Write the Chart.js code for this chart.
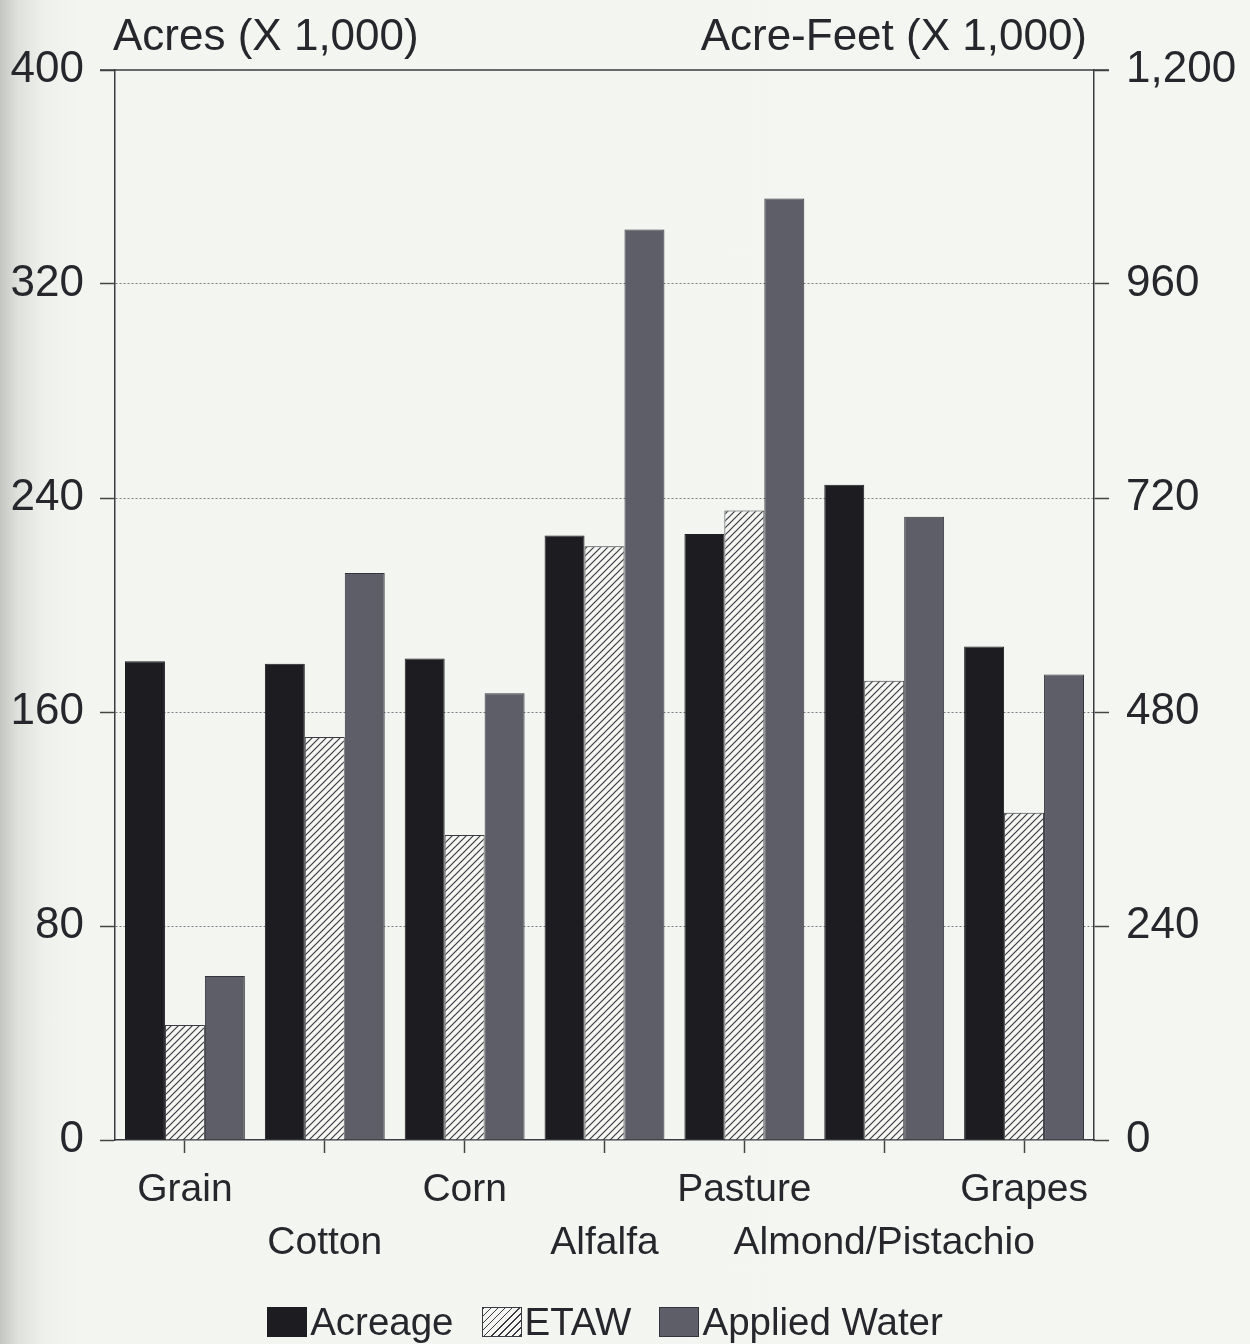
<!DOCTYPE html>
<html>
<head>
<meta charset="utf-8">
<script src="https://cdn.jsdelivr.net/npm/chart.js@4/dist/chart.umd.min.js"></script>
<style>
  html, body { margin: 0; padding: 0; }
  body {
    width: 1250px; height: 1344px; overflow: hidden;
    background: linear-gradient(to right, #c4c6c2 0px, #dfe1dc 18px, #eff1ec 45px, #f3f5f0 80px, #f4f6f1 100%);
    font-family: "Liberation Sans", Arial, Helvetica, sans-serif;
  }
  #wrap { position: relative; width: 1250px; height: 1344px; }
  #legend {
    position: absolute; left: -20px; top: 1303px; width: 1250px; height: 38px;
    display: flex; justify-content: center; align-items: center;
    font-size: 38.5px; color: #26262c;
  }
  #legend .item { display: flex; align-items: center; margin: 0 14px; }
  #legend .box { width: 40px; height: 30px; margin-right: 3px; box-sizing: border-box; }
</style>
</head>
<body>
<div id="wrap">
  <canvas id="myChart" width="1250" height="1344"></canvas>
  <div id="legend"></div>
</div>
<script>
// crops, staggered on two rows like the original
var categories = ['Grain', 'Cotton', 'Corn', 'Alfalfa', 'Pasture', 'Almond/Pistachio', 'Grapes'];

// acres (x 1,000) - left axis
var acreage = [179, 178, 180, 226, 226.5, 245, 184.5];
// acre-feet (x 1,000) - right axis
var etaw = [129, 452, 342, 666, 706, 515, 367];
var appliedWater = [184, 636, 501, 1021, 1056, 699, 522];

var leftTicks = [0, 80, 160, 240, 320, 400];
var rightTicks = [0, 240, 480, 720, 960, 1200];

var FONT = '"Liberation Sans", Arial, Helvetica, sans-serif';
var INK = '#26262c';

// two-row labels: even index on top row, odd on second row
var xLabels = categories.map(function (c, i) {
    return i % 2 === 0 ? [c, ''] : ['', c];
});

// diagonal hatch for ETAW
function makeHatch() {
    var p = document.createElement('canvas');
    p.width = 7; p.height = 7;
    var c = p.getContext('2d');
    c.fillStyle = '#f6f7f3';
    c.fillRect(0, 0, 7, 7);
    c.strokeStyle = '#3a3a42';
    c.lineWidth = 1.2;
    c.beginPath();
    c.moveTo(-1, 8); c.lineTo(8, -1);
    c.moveTo(-2, 2); c.lineTo(2, -2);
    c.moveTo(5, 9); c.lineTo(9, 5);
    c.stroke();
    return document.getElementById('myChart').getContext('2d').createPattern(p, 'repeat');
}
var hatch = makeHatch();

// axis headings and the solid top frame line
var frame = {
    id: 'frame',
    afterDraw: function (chart) {
        var ctx = chart.ctx, a = chart.chartArea;
        ctx.save();
        ctx.strokeStyle = '#3a3a40';
        ctx.lineWidth = 1.5;
        ctx.beginPath();
        ctx.moveTo(a.left - 15, a.top);
        ctx.lineTo(a.right + 15, a.top);
        ctx.stroke();
        ctx.fillStyle = INK;
        ctx.font = '44px ' + FONT;
        ctx.textBaseline = 'alphabetic';
        ctx.textAlign = 'left';
        ctx.fillText('Acres (X 1,000)', a.left - 2, 50);
        ctx.textAlign = 'right';
        ctx.fillText('Acre-Feet (X 1,000)', a.right - 7, 50);
        ctx.restore();
    }
};

var ctx = document.getElementById('myChart').getContext('2d');
var myChart = new Chart(ctx, {
    type: 'bar',
    data: {
        labels: xLabels,
        datasets: [{
            label: 'Acreage',
            data: acreage,
            yAxisID: 'yL',
            backgroundColor: '#1c1c21',
            borderColor: '#1c1c21',
            borderWidth: 1
        }, {
            label: 'ETAW',
            data: etaw,
            yAxisID: 'yR',
            backgroundColor: hatch,
            borderColor: '#3a3a42',
            borderWidth: 1
        }, {
            label: 'Applied Water',
            data: appliedWater,
            yAxisID: 'yR',
            backgroundColor: '#5e5e69',
            borderColor: '#34343c',
            borderWidth: 1
        }]
    },
    options: {
        responsive: false,
        animation: false,
        datasets: {
            bar: { categoryPercentage: 0.857, barPercentage: 1.0 }
        },
        layout: { padding: { top: 70, left: 0, right: 0, bottom: 0 } },
        scales: {
            x: {
                offset: true,
                grid: {
                    offset: false,
                    drawOnChartArea: false,
                    tickLength: 13,
                    tickColor: '#444',
                    tickWidth: 1.5
                },
                border: { display: true, color: '#3a3a40', width: 1.5 },
                ticks: {
                    color: INK,
                    padding: 11,
                    maxRotation: 0,
                    autoSkip: false,
                    font: { family: FONT, size: 39, lineHeight: 1.35 }
                },
                afterFit: function (s) { s.height = 204; }
            },
            yL: {
                position: 'left',
                min: 0, max: 400,
                afterBuildTicks: function (s) { s.ticks = leftTicks.map(function (v) { return { value: v }; }); },
                grid: {
                    color: function (c) { return c.tick && (c.tick.value === 0 || c.tick.value === 400) ? 'rgba(0,0,0,0)' : '#7c7c84'; },
                    lineWidth: 1,
                    tickLength: 15,
                    tickColor: '#444',
                    tickWidth: 1.5
                },
                border: { display: true, color: '#3a3a40', width: 1.5, dash: [2, 2] },
                ticks: {
                    color: INK,
                    padding: 16,
                    font: { family: FONT, size: 44 }
                },
                afterFit: function (s) { s.width = 115; }
            },
            yR: {
                position: 'right',
                min: 0, max: 1200,
                afterBuildTicks: function (s) { s.ticks = rightTicks.map(function (v) { return { value: v }; }); },
                grid: {
                    drawOnChartArea: false,
                    tickLength: 15,
                    tickColor: '#444',
                    tickWidth: 1.5
                },
                border: { display: true, color: '#3a3a40', width: 1.5 },
                ticks: {
                    color: INK,
                    padding: 17,
                    font: { family: FONT, size: 44 },
                    callback: function (v) { return v.toLocaleString('en-US'); }
                },
                afterFit: function (s) { s.width = 156; }
            }
        },
        plugins: {
            legend: { display: false },
            tooltip: { enabled: false }
        }
    },
    plugins: [frame]
});

// legend as html, box right against the text like the original
var legendStyles = [
    'background:#1c1c21;',
    'background:repeating-linear-gradient(135deg, #3a3a42 0 1.2px, #f6f7f3 1.2px 5px); border:1px solid #3a3a42;',
    'background:#5e5e69; border:1px solid #34343c;'
];
var legendEl = document.getElementById('legend');
myChart.data.datasets.forEach(function (ds, i) {
    var item = document.createElement('div');
    item.className = 'item';
    var box = document.createElement('span');
    box.className = 'box';
    box.setAttribute('style', legendStyles[i]);
    var txt = document.createElement('span');
    txt.textContent = ds.label;
    item.appendChild(box);
    item.appendChild(txt);
    legendEl.appendChild(item);
});
</script>
</body>
</html>
